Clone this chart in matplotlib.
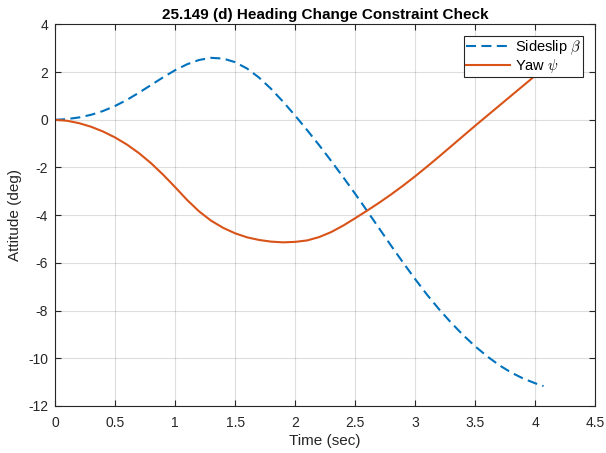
import matplotlib
matplotlib.use('Agg')
import matplotlib.pyplot as plt

# time history of the heading change check (sec, deg)
time = [0.0, 0.1, 0.2, 0.3, 0.4, 0.5, 0.6, 0.7, 0.8, 0.9,
        1.0, 1.1, 1.2, 1.3, 1.4, 1.5, 1.6, 1.7, 1.8, 1.9,
        2.0, 2.1, 2.2, 2.3, 2.4, 2.5, 2.6, 2.7, 2.8, 2.9,
        3.0, 3.1, 3.2, 3.3, 3.4, 3.5, 3.6, 3.7, 3.8, 3.9,
        4.0, 4.07]

sideslip = [0.0, 0.03, 0.10, 0.21, 0.37, 0.58, 0.84, 1.14, 1.46, 1.78,
            2.08, 2.33, 2.51, 2.60, 2.57, 2.42, 2.15, 1.77, 1.30, 0.76,
            0.18, -0.43, -1.06, -1.72, -2.40, -3.10, -3.82, -4.55, -5.28, -5.99,
            -6.68, -7.34, -7.95, -8.51, -9.03, -9.50, -9.92, -10.29, -10.60, -10.85,
            -11.05, -11.17]

yaw = [0.0, -0.04, -0.14, -0.29, -0.49, -0.74, -1.04, -1.40, -1.82, -2.30,
       -2.82, -3.36, -3.84, -4.23, -4.53, -4.76, -4.93, -5.04, -5.11, -5.14,
       -5.12, -5.06, -4.92, -4.71, -4.44, -4.13, -3.81, -3.48, -3.13, -2.76,
       -2.37, -1.96, -1.54, -1.11, -0.68, -0.25, 0.17, 0.59, 1.01, 1.43,
       1.85, 2.14]

plt.rcParams['font.family'] = ['Liberation Sans', 'DejaVu Sans']
plt.rcParams['mathtext.fontset'] = 'cm'
plt.rcParams['axes.unicode_minus'] = False

fig = plt.figure(figsize=(6.06, 4.53), dpi=100)
ax = fig.add_axes([0.0908, 0.104, 0.8913, 0.842])

ax.plot(time, sideslip, color='#0072BD', linewidth=1.5,
        linestyle=(0, (4.8, 2.6)), label=r'Sideslip $\beta$')
ax.plot(time, yaw, color='#D95319', linewidth=1.5, label=r'Yaw $\psi$')

ax.set_xlim(0, 4.5)
ax.set_ylim(-12, 4)
ax.set_xticks([0, 0.5, 1, 1.5, 2, 2.5, 3, 3.5, 4, 4.5])
ax.set_xticklabels(['0', '0.5', '1', '1.5', '2', '2.5', '3', '3.5', '4', '4.5'])
ax.set_yticks(range(-12, 5, 2))

ax.grid(True, color='#262626', alpha=0.15, linewidth=0.8)
ax.set_axisbelow(True)
for s in ax.spines.values():
    s.set_color('#262626')
    s.set_linewidth(0.8)
ax.tick_params(direction='in', top=True, right=True, length=4,
               colors='#262626', labelsize=10)
ax.tick_params(axis='x', pad=7)
ax.tick_params(axis='y', pad=5)

ax.set_xlabel('Time (sec)', fontsize=11, color='#262626', labelpad=3)
ax.set_ylabel('Attitude (deg)', fontsize=11, color='#262626', labelpad=4)
ax.set_title('25.149 (d) Heading Change Constraint Check', fontsize=11,
             fontweight='bold', pad=4)

leg = ax.legend(loc='upper right', fontsize=10.5, fancybox=False,
                edgecolor='#262626', framealpha=1, handlelength=3.0,
                borderaxespad=0.8, borderpad=0.15, labelspacing=0.0,
                handletextpad=0.4)
leg.get_frame().set_linewidth(0.8)

fig.savefig('out.png', dpi=100)
